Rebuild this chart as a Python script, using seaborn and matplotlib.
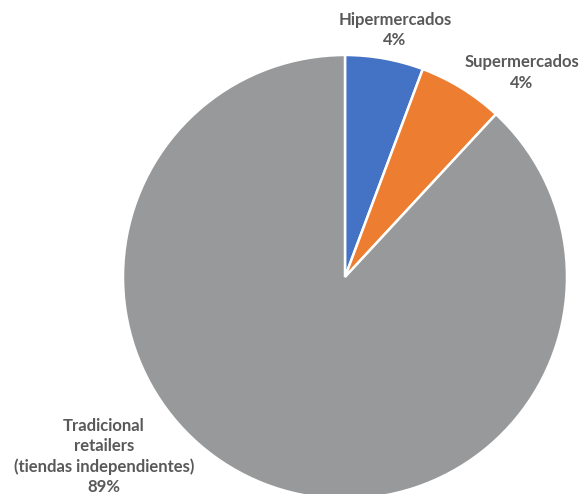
import matplotlib
matplotlib.use("Agg")
import matplotlib.pyplot as plt
import seaborn as sns

# Data
categories = ["Hipermercados", "Supermercados", "Tradicional\nretailers\n(tiendas independientes)"]
slice_values = [5.7, 6.2, 88.1]
pct_labels = ["4%", "4%", "89%"]
colors = ["#4472C4", "#ED7D31", "#97999A"]

sns.set_theme(style="white")
plt.rcParams['font.family'] = ['Lato', 'DejaVu Sans']

fig = plt.figure(figsize=(5.81, 4.94), dpi=100)
ax = fig.add_axes([0, 0, 1, 1])
ax.axis("off")

R = 222.0
cx, cy = 345.0, 277.0

ax.pie(slice_values, colors=sns.color_palette(colors), startangle=90, counterclock=False,
       radius=1.0, center=(0, 0), frame=False,
       wedgeprops=dict(edgecolor="white", linewidth=1.8))
ax.set_xlim(-cx / R, (581 - cx) / R)
ax.set_ylim((cy - 494) / R, cy / R)
ax.set_aspect("auto")

label_pos = [(395, 30), (521.5, 72.5), (104, 456.5)]
for cat, pct, (px, py) in zip(categories, pct_labels, label_pos):
    ax.text((px - cx) / R, (cy - py) / R, f"{cat}\n{pct}", ha="center", va="center",
            fontsize=12, fontweight="bold", color="#595959", linespacing=1.32)

fig.savefig("out.png", dpi=100)
